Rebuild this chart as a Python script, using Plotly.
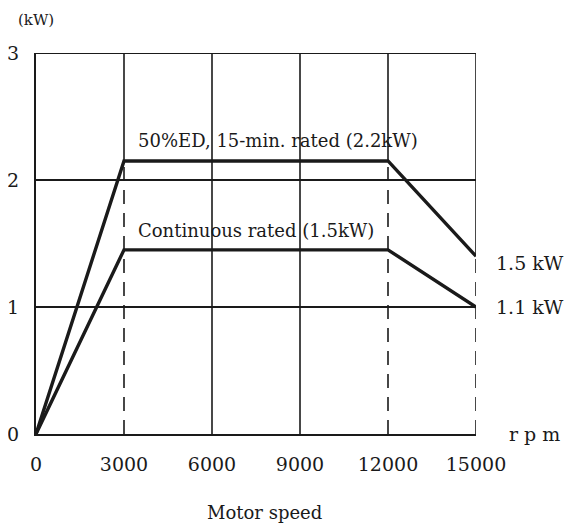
import plotly.graph_objects as go

# motor output curves (rpm, kW)
speed = [0, 3000, 12000, 15000]
rated_30min = [0, 2.15, 2.15, 1.4]
rated_cont = [0, 1.45, 1.45, 1.0]

x_ticks = [0, 3000, 6000, 9000, 12000, 15000]
x_labels = ["0", "3000", "6000", "9000", "12000", "15000"]
y_ticks = [0, 1, 2, 3]

FONT = "DejaVu Serif"
INK = "#1a1a1a"

fig = go.Figure()

for ys in (rated_30min, rated_cont):
    fig.add_trace(go.Scatter(x=speed, y=ys, mode="lines",
                             line=dict(color=INK, width=3.4), showlegend=False))

shapes = []
# horizontal grid (1, 2, 3 kW)
for yv in y_ticks[1:]:
    shapes.append(dict(type="line", xref="x", yref="y", x0=0, x1=15000, y0=yv, y1=yv,
                       line=dict(color=INK, width=1.8)))
# vertical grid: full solid at 6000 / 9000
for xv in (6000, 9000):
    shapes.append(dict(type="line", xref="x", yref="y", x0=xv, x1=xv, y0=0, y1=3,
                       line=dict(color=INK, width=1.6)))
# solid above upper curve, dashed below at 3000 / 12000 / 15000
for xv in (3000, 12000, 15000):
    top = rated_30min[speed.index(xv)]
    shapes.append(dict(type="line", xref="x", yref="y", x0=xv, x1=xv, y0=top, y1=3,
                       line=dict(color=INK, width=1.6)))
    shapes.append(dict(type="line", xref="x", yref="y", x0=xv, x1=xv, y0=0, y1=top,
                       line=dict(color=INK, width=1.6, dash="14px,9px")))
fig.update_layout(shapes=shapes)

ann = dict(showarrow=False, font=dict(family=FONT, size=18, color=INK))
fig.add_annotation(x=3400, y=2.31, xanchor="left", yanchor="middle",
                   text="50%ED, 15-min. rated (2.2kW)", **ann)
fig.add_annotation(x=3400, y=1.6, xanchor="left", yanchor="middle",
                   text="Continuous rated (1.5kW)", **ann)

side = dict(showarrow=False, font=dict(family=FONT, size=19, color=INK))
fig.add_annotation(x=1.04, xref="paper", y=1.35, xanchor="left",
                   yanchor="middle", text="1.5 kW", **side)
fig.add_annotation(x=1.04, xref="paper", y=1.0, xanchor="left",
                   yanchor="middle", text="1.1 kW", **side)
fig.add_annotation(x=1.07, xref="paper", y=0, xanchor="left", yanchor="middle",
                   text="r p m", **side)
fig.add_annotation(x=0.52, xref="paper", y=-0.205, yref="paper", xanchor="center",
                   yanchor="middle", text="Motor speed",
                   showarrow=False, font=dict(family=FONT, size=18, color=INK))
fig.add_annotation(x=-0.045, xref="paper", y=1.087, yref="paper", xanchor="left",
                   yanchor="middle", text="(kW)",
                   showarrow=False, font=dict(family=FONT, size=15, color=INK))

# page body adds an 8px offset, so the figure is drawn slightly smaller
fig.update_layout(
    width=564, height=519,
    margin=dict(l=28, r=96, t=45, b=93),
    paper_bgcolor="white", plot_bgcolor="white",
    font=dict(family=FONT, size=19, color=INK),
    xaxis=dict(range=[0, 15000], tickvals=x_ticks, ticktext=x_labels,
               showgrid=False, zeroline=False, automargin=False,
               showline=True, linecolor=INK, linewidth=2,
               ticks="outside", ticklen=12, tickcolor="rgba(0,0,0,0)"),
    yaxis=dict(range=[0, 3], tickvals=y_ticks, showgrid=False, zeroline=False,
               automargin=False, showline=True, linecolor=INK, linewidth=2,
               ticks="outside", ticklen=11, tickcolor="rgba(0,0,0,0)"),
)

fig.write_html("out.html")
